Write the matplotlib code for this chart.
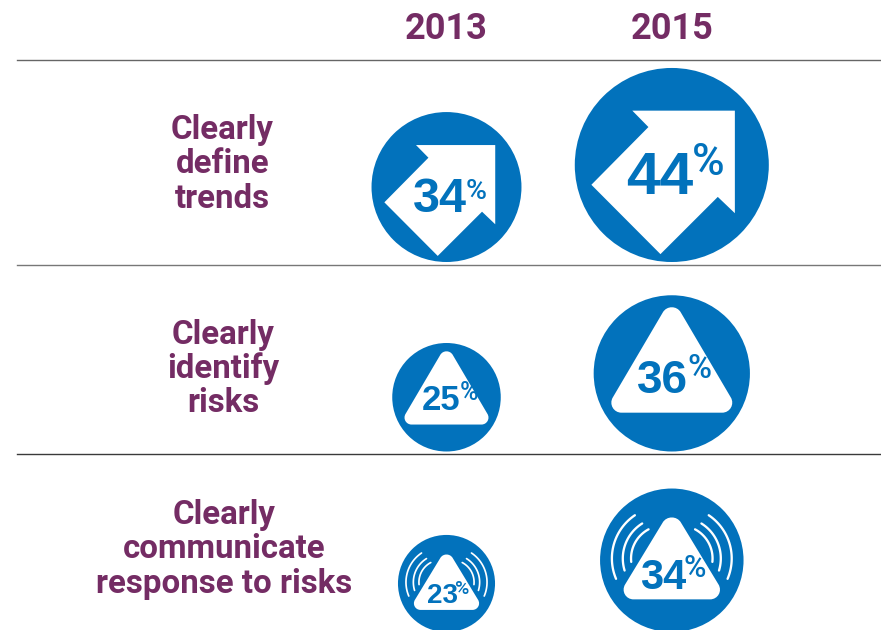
import numpy as np
import matplotlib
matplotlib.use("Agg")
import matplotlib.pyplot as plt
from matplotlib.patches import Circle, Polygon, PathPatch
from matplotlib.path import Path

years = ["2013", "2015"]
row_labels = [["Clearly", "define", "trends"],
              ["Clearly", "identify", "risks"],
              ["Clearly", "communicate", "response to risks"]]
values_2013 = [34, 25, 23]
values_2015 = [44, 36, 34]

BLUE = "#0272BC"
PURPLE = "#742C64"

# layout (pixels)
col_x = [446.5, 671.8]
row_bottom = [262, 451.5, 632]
row_scale = [2.205, 2.17, 2.11]
rule_y = [60, 264.8, 453.5]
rule_col = ["#666666", "#777777", "#3a3a3a"]
label_first_baseline = [139, 343.7, 524]
label_x = [222.5, 223.5, 223.8]
# (number x, number baseline, number pt, pct x, pct baseline, pct pt) per row / column
text_layout = [
    [(440, 211.7, 35, 476.3, 199, 20.5), (659.5, 194.3, 43.5, 707.7, 175, 32)],
    [(440.8, 410, 25, 468.7, 400, 18), (662.8, 392.7, 33, 699, 377.7, 23.5)],
    [(442, 602.7, 20, 461.8, 594, 14), (663.3, 589, 30, 694.5, 576.7, 22)],
]

ARROW = np.array([(-0.829, 0.204), (-0.117, 0.919), (0.474, 0.329), (0.650, 0.497),
                  (0.650, -0.560), (-0.407, -0.560), (-0.241, -0.391)])

fig = plt.figure(figsize=(8.81, 6.30), dpi=100)
ax = fig.add_axes([0, 0, 1, 1])
ax.set_xlim(0, 881)
ax.set_ylim(630, 0)
ax.axis("off")


def rounded_triangle(cx, cy, r, top, base_y, half, rho):
    apex = np.array([cx, cy + top * r])
    bl = np.array([cx - half * r, cy + base_y * r])
    br = np.array([cx + half * r, cy + base_y * r])
    corners = [apex, br, bl]
    d = 1.732 * rho * r
    h = 0.444 * d
    verts, codes = [], []
    for i, c in enumerate(corners):
        prev, nxt = corners[i - 1], corners[(i + 1) % 3]
        up = (prev - c) / np.linalg.norm(prev - c)
        un = (nxt - c) / np.linalg.norm(nxt - c)
        a, b = c + up * d, c + un * d
        verts += [a, a - up * h, b - un * h, b]
        codes += [Path.MOVETO if i == 0 else Path.LINETO, Path.CURVE4, Path.CURVE4, Path.CURVE4]
    verts.append(verts[0])
    codes.append(Path.CLOSEPOLY)
    ax.add_patch(PathPatch(Path(np.array(verts), codes), fc="white", ec="none", zorder=3))


def waves(cx, cy, r):
    specs = [(0.727, 157, 236), (0.575, 163, 238), (0.46, 174, 242)]
    for R, a0, a1 in specs:
        t = np.radians(np.linspace(a0, a1, 50))
        for side in (-1, 1):
            xs = cx + side * (-0.108 + R * np.cos(t)) * r
            ys = cy + (-0.025 + R * np.sin(t)) * r
            ax.plot(xs, ys, color="white", lw=r * 0.019 + 0.3,
                    solid_capstyle="round", zorder=3)


def pct_text(row, col, value):
    nx, nb, npt, px, pb, ppt = text_layout[row][col]
    ax.text(nx, nb, str(value), color=BLUE, fontsize=npt, fontweight="bold",
            family="Liberation Sans", ha="center", va="baseline", zorder=5)
    ax.text(px, pb, "%", color=BLUE, fontsize=ppt, fontweight="medium", family="Roboto",
            ha="center", va="baseline", zorder=5)


for y, c in zip(rule_y, rule_col):
    ax.plot([17, 881], [y, y], color=c, lw=1.0, zorder=1)

for x, yr in zip(col_x, years):
    ax.text(x, 39.3, yr, color=PURPLE, fontsize=26, fontweight="bold",
            family="Roboto", ha="center", va="baseline")

for row, lines in enumerate(row_labels):
    for i, line in enumerate(lines):
        ax.text(label_x[row], label_first_baseline[row] + 34.4 * i, line, color=PURPLE,
                fontsize=23.75, fontweight="bold", family="Roboto",
                ha="center", va="baseline")

for col, series in enumerate([values_2013, values_2015]):
    for row, value in enumerate(series):
        r = value * row_scale[row]
        cx, cy = col_x[col], row_bottom[row] - r
        ax.add_patch(Circle((cx, cy), r, fc=BLUE, ec="none", zorder=2))
        if row == 0:
            ax.add_patch(Polygon(ARROW * r + [cx, cy], closed=True, fc="white", ec="none", zorder=3))
        elif row == 1:
            rounded_triangle(cx, cy, r, -0.976, 0.503, 0.87, 0.13)
        else:
            rounded_triangle(cx, cy, r, -0.735, 0.545, 0.777, 0.14)
            waves(cx, cy, r)
        pct_text(row, col, value)

fig.savefig("out.png", dpi=100, facecolor="white")
